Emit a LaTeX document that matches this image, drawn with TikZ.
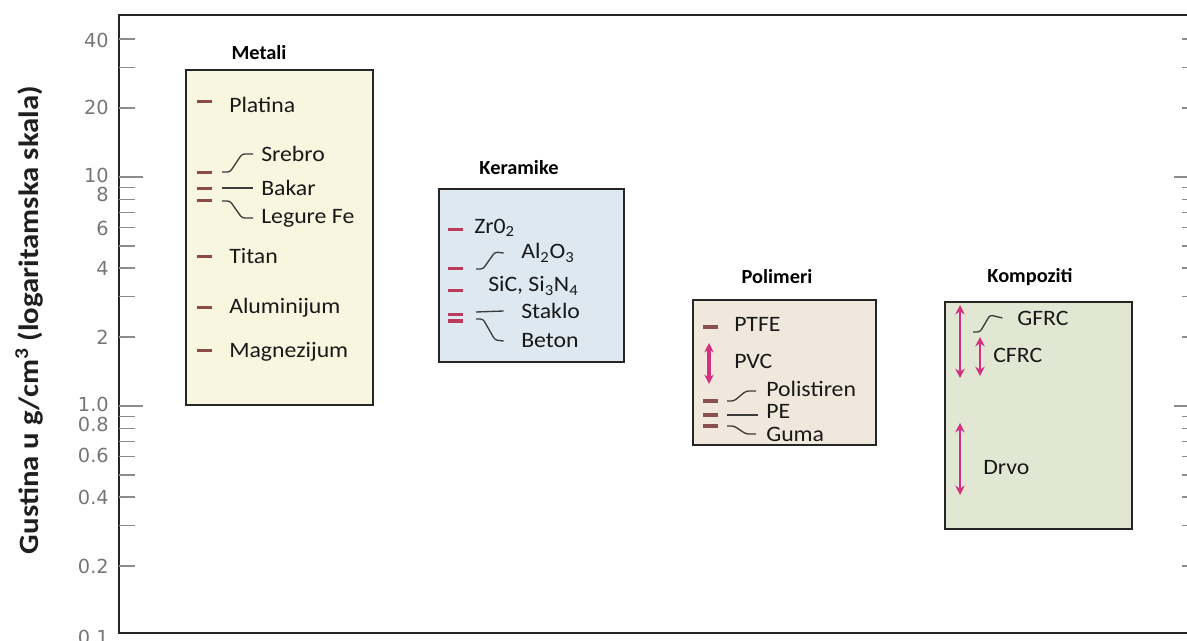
\documentclass[tikz,border=0pt]{standalone}
\usepackage{fontspec}
\setmainfont{Carlito}
\newfontfamily\lblfont{Carlito}[FakeStretch=1.08]
\newfontfamily\ttlfont{Carlito}[FakeStretch=1.02]
\newfontfamily\axfont{Carlito}[FakeStretch=1.1]
\newfontfamily\numfont{DejaVu Sans}
\usetikzlibrary{arrows.meta}

\definecolor{framec}{HTML}{262626}
\definecolor{tickc}{HTML}{8C8C8C}
\definecolor{numc}{HTML}{767676}
\definecolor{metfill}{HTML}{F8F6DF}
\definecolor{cerfill}{HTML}{DDE8F1}
\definecolor{polfill}{HTML}{F1E8DD}
\definecolor{comfill}{HTML}{E2E7D4}
\definecolor{metdash}{HTML}{8E4A45}
\definecolor{cerdash}{HTML}{BC3A5E}
\definecolor{poldash}{HTML}{8A5050}
\definecolor{arrowc}{HTML}{D42F80}
\definecolor{linkc}{HTML}{3C3C3C}

\begin{document}
\begin{tikzpicture}[x=0.75pt,y=-0.75pt,
  declare function={dy(\v)=406-229*log10(\v);},
  grpbox/.style={draw=framec,line width=1.9pt},
  grptitle/.style={font=\ttlfont\bfseries\fontsize{15}{17}\selectfont,text=black,inner sep=0pt},
  itemlbl/.style={font=\lblfont\fontsize{16.5}{18}\selectfont,text=black!90,anchor=west,inner sep=0pt},
  axtick/.style={draw=tickc,line width=1pt},
  numlbl/.style={font=\numfont\fontsize{14.5}{15}\selectfont,text=numc,anchor=east,inner sep=0pt},
  valmark/.style={line width=2.3pt},
  linkline/.style={draw=linkc,line width=1pt,rounded corners=2pt},
  spanarrow/.style={draw=arrowc,line width=2pt,
    {Stealth[length=7pt,width=7pt]}-{Stealth[length=7pt,width=7pt]}},
]
\useasboundingbox (0,0) rectangle (1187,641);
\begin{scope}
\clip (0,0) rectangle (1187,641);

% plot frame (its right edge lies just past the page)
\draw[draw=framec,line width=2.1pt] (119,15) rectangle (1198,633);

% tick marks on both vertical axes
\foreach \v in {40,30,20,9,8,7,6,5,4,3,2,0.9,0.8,0.7,0.6,0.5,0.4,0.3,0.2}{
  \draw[axtick] (119,{dy(\v)}) -- ++(16,0);
  \draw[axtick] (1198,{dy(\v)}) -- ++(-16,0);
}
\foreach \v in {10,1}{
  \draw[axtick] (119,{dy(\v)}) -- ++(24,0);
  \draw[axtick] (1198,{dy(\v)}) -- ++(-24,0);
}

% scale numbers
\node[numlbl] (n40) at (109,40) {40};
\node[numlbl] (n20) at (109,107) {20};
\node[numlbl] (n10) at (109,175) {10};
\node[numlbl] (n8)  at (109,194) {8};
\node[numlbl] (n6)  at (109,228) {6};
\node[numlbl] (n4)  at (109,268) {4};
\node[numlbl] (n2)  at (109,337) {2};
\node[numlbl] (n1)  at (109,404) {1.0};
\node[numlbl] (n08) at (109,424) {0.8};
\node[numlbl] (n06) at (109,455) {0.6};
\node[numlbl] (n04) at (109,497) {0.4};
\node[numlbl] (n02) at (109,566) {0.2};
\node[numlbl] (n01) at (109,637) {0.1};

% axis title
\node[font=\axfont\bfseries\fontsize{21}{23}\selectfont,text=black!88,rotate=90] (ytitle) at (29,320)
  {Gustina u g/cm\textsuperscript{3} (logaritamska skala)};
\end{scope}

% ---------------- Metals ----------------
\node[grptitle] (tmet) at (259,53) {Metali};
\draw[grpbox,fill=metfill] (186,70) rectangle (373,405);
\foreach \v in {21.45,10.5,8.9,7.87,4.5,2.7,1.74}
  \draw[valmark,draw=metdash] (197,{dy(\v)}) -- (212,{dy(\v)});
\node[itemlbl] (pt) at (229,105) {Platina};
\node[itemlbl] (ag) at (261,154) {Srebro};
\node[itemlbl] (cu) at (261,188) {Bakar};
\node[itemlbl] (fe) at (261,218) {Legure Fe};
\node[itemlbl] (ti) at (229,256) {Titan};
\node[itemlbl] (al) at (229,308) {Aluminijum};
\node[itemlbl] (mg) at (229,352) {Magnezijum};
\coordinate (agm) at (222,172);
\coordinate (cum) at (222,188);
\coordinate (fem) at (222,201);
\draw[linkline] (agm) -- ++(8,0) -- ++(12,-18) -- ([xshift=-6pt]ag.west);
\draw[linkline] (cum) -- ([xshift=-6pt]cu.west);
\draw[linkline] (fem) -- ++(8,0) -- ++(12,17) -- ([xshift=-6pt]fe.west);

% ---------------- Ceramics ----------------
\node[grptitle] (tcer) at (519,168) {Keramike};
\draw[grpbox,fill=cerfill] (439,189) rectangle (624,362);
\foreach \v in {5.9,3.97,3.2,2.5,2.35}
  \draw[valmark,draw=cerdash] (448,{dy(\v)}) -- (463,{dy(\v)});
\node[itemlbl] (zr) at (474,228) {Zr0\textsubscript{2}};
\node[itemlbl] (alo) at (521,253) {Al\textsubscript{2}O\textsubscript{3}};
\node[itemlbl] (sic) at (488,286) {SiC, Si\textsubscript{3}N\textsubscript{4}};
\node[itemlbl] (gl) at (521,311) {Staklo};
\node[itemlbl] (bt) at (521,341) {Beton};
\coordinate (alom) at (476,269);
\coordinate (glm) at (476,312);
\coordinate (btm) at (476,319);
\draw[linkline] (alom) -- ++(7,0) -- ++(12,-17) -- ([xshift=-13pt]alo.west);
\draw[linkline] (glm) -- ([xshift=-13pt]gl.west);
\draw[linkline] (btm) -- ++(7,0) -- ++(12,21) -- ([xshift=-13pt]bt.west);

% ---------------- Polymers ----------------
\node[grptitle] (tpol) at (777,277) {Polimeri};
\draw[grpbox,fill=polfill] (693,300) rectangle (876,445);
\foreach \yy in {327,401,415,426}
  \draw[valmark,draw=poldash] (703,\yy) -- (718,\yy);
\draw[spanarrow,line width=3pt] (709,343) -- (709,384);
\node[itemlbl] (ptfe) at (734,324) {PTFE};
\node[itemlbl] (pvc) at (734,361) {PVC};
\node[itemlbl] (ps) at (766,389) {Polistiren};
\node[itemlbl] (pe) at (766,411) {PE};
\node[itemlbl] (gu) at (766,434) {Guma};
\coordinate (psm) at (727,401);
\coordinate (pem) at (727,415);
\coordinate (gum) at (727,426);
\draw[linkline] (psm) -- ++(7,0) -- ++(12,-10) -- ++(10,0);
\draw[linkline] (pem) -- ([xshift=-6pt]pe.west |- pem);
\draw[linkline] (gum) -- ++(7,0) -- ++(12,8) -- ++(10,0);

% ---------------- Composites ----------------
\node[grptitle] (tcom) at (1030,277) {Kompoziti};
\draw[grpbox,fill=comfill] (945,302) rectangle (1132,529);
\draw[spanarrow] (960,305) -- (960,378);
\draw[spanarrow] (980,337) -- (980,376);
\draw[spanarrow] (960,423) -- (960,495);
\node[itemlbl] (gf) at (1017,318) {GFRC};
\node[itemlbl] (cf) at (993,355) {CFRC};
\node[itemlbl] (wd) at (983,468) {Drvo};
\coordinate (gfm) at (973,332);
\draw[linkline] (gfm) -- ++(7,0) -- ++(10,-17) -- ([xshift=-11pt]gf.west);
\end{tikzpicture}
\end{document}
